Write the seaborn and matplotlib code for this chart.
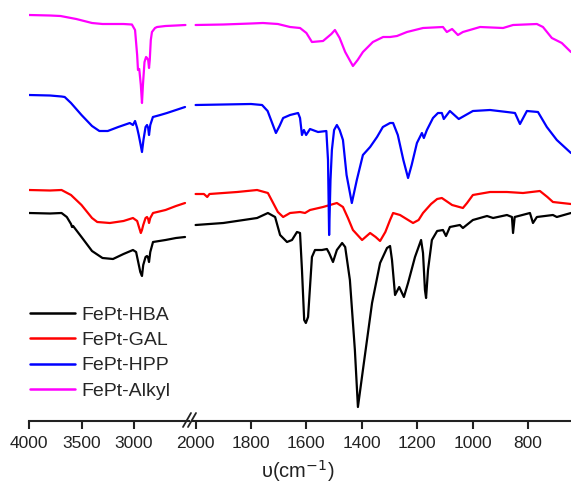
import numpy as np
import pandas as pd
import matplotlib
matplotlib.use("Agg")
import matplotlib.pyplot as plt
from matplotlib.lines import Line2D
import seaborn as sns

# ---------------- data (wavenumber cm^-1, transmittance a.u., offset traces) ----------------
series_names = ["FePt-HBA", "FePt-GAL", "FePt-HPP", "FePt-Alkyl"]
series_colors = ["#000000", "#ff0000", "#0000ff", "#ff00ff"]

# high wavenumber region (4000-2500)
hba_hi_wn = [4000, 3800, 3690, 3640, 3600, 3590, 3580, 3500, 3400, 3300, 3200, 3100, 3010, 2980, 2960, 2940, 2924, 2912, 2890, 2876, 2865, 2857, 2845, 2819, 2700, 2600, 2514]
hba_hi_t = [217, 216.5, 217, 213, 206, 203, 204, 193, 179, 172, 171, 176, 180, 178, 168, 158, 154, 165, 173, 174, 172, 168, 178, 188, 190, 192, 193]

gal_hi_wn = [4000, 3800, 3690, 3600, 3500, 3400, 3350, 3230, 3100, 3010, 2970, 2950, 2935, 2924, 2912, 2890, 2876, 2865, 2857, 2845, 2819, 2700, 2600, 2514]
gal_hi_t = [240, 239.5, 240, 235, 225, 212, 208, 207, 209, 212, 209, 202, 197, 200, 205, 212, 213, 211, 207, 212, 217, 220, 224, 227]

hpp_hi_wn = [4000, 3800, 3690, 3660, 3640, 3600, 3500, 3400, 3330, 3250, 3150, 3040, 3010, 2990, 2970, 2955, 2940, 2924, 2910, 2890, 2876, 2865, 2857, 2845, 2820, 2750, 2686, 2600, 2514]
hpp_hi_t = [335, 334.5, 333.5, 333, 331, 327, 315, 304, 299, 299, 303, 307, 305, 309, 302, 295, 287, 278, 290, 303, 305, 302, 295, 305, 313, 315, 317, 320, 323]

alk_hi_wn = [4000, 3800, 3700, 3550, 3400, 3300, 3100, 3020, 2990, 2970, 2962, 2950, 2935, 2924, 2915, 2900, 2885, 2876, 2865, 2857, 2850, 2840, 2829, 2800, 2780, 2700, 2600, 2510]
alk_hi_t = [415, 414.5, 414, 411, 407, 406, 406, 405.5, 400, 375, 360, 361, 345, 327, 345, 368, 373, 372, 370, 362, 370, 390, 398, 402, 403, 404, 404.5, 405]

# fingerprint region (2000-645)
hba_lo_wn = [2000, 1900, 1778, 1739, 1713, 1695, 1670, 1652, 1634, 1623, 1616, 1608, 1602, 1594, 1580, 1569, 1544, 1526, 1518, 1504, 1490, 1471, 1460, 1443, 1425, 1414, 1396, 1363, 1334, 1309, 1298, 1291, 1280, 1265, 1248, 1233, 1208, 1186, 1179, 1172, 1168, 1161, 1147, 1128, 1107, 1096, 1082, 1046, 1035, 999, 948, 926, 876, 858, 854, 848, 793, 782, 768, 710, 696, 645]
hba_lo_t = [205, 207, 212, 217, 213, 195, 188, 190, 198, 197, 160, 110, 107, 113, 173, 180, 180, 181, 177, 168, 180, 187, 183, 150, 80, 23, 60, 127, 167, 182, 184, 170, 135, 143, 133, 147, 173, 190, 177, 140, 132, 160, 190, 199, 200, 194, 203, 205, 202, 210, 214, 212, 215, 213, 197, 213, 217, 207, 213, 215, 213, 217]

gal_lo_wn = [2000, 1970, 1958, 1950, 1850, 1778, 1739, 1720, 1703, 1684, 1659, 1623, 1605, 1587, 1540, 1490, 1468, 1450, 1432, 1399, 1370, 1350, 1334, 1315, 1298, 1287, 1262, 1215, 1195, 1179, 1150, 1128, 1111, 1074, 1035, 1020, 999, 937, 876, 818, 757, 730, 710, 645]
gal_lo_t = [236, 236, 233, 236, 238, 240, 237, 227, 218, 213, 217, 218, 217, 220, 223, 227, 223, 212, 200, 190, 197, 193, 189, 198, 210, 217, 215, 207, 210, 217, 226, 231, 232, 225, 222, 227, 235, 238, 238, 237, 239, 233, 228, 226]

hpp_lo_wn = [2000, 1900, 1800, 1760, 1740, 1725, 1710, 1697, 1684, 1659, 1630, 1623, 1616, 1609, 1601, 1587, 1558, 1528, 1522, 1518, 1513, 1508, 1500, 1490, 1480, 1468, 1455, 1436, 1418, 1396, 1370, 1345, 1324, 1298, 1287, 1270, 1250, 1233, 1220, 1201, 1183, 1176, 1165, 1143, 1125, 1111, 1104, 1082, 1050, 999, 937, 876, 847, 829, 804, 764, 732, 696, 645]
hpp_lo_t = [325, 325.5, 326, 325, 319, 308, 297, 304, 312, 315, 317, 312, 295, 300, 295, 301, 298, 299, 270, 195, 250, 280, 300, 305, 300, 290, 255, 227, 250, 275, 283, 293, 303, 307, 307, 295, 270, 252, 265, 287, 297, 292, 300, 312, 317, 317, 311, 319, 311, 319, 320, 318, 317, 306, 319, 318, 303, 290, 277]

alk_lo_wn = [2000, 1900, 1800, 1757, 1703, 1659, 1623, 1600, 1580, 1540, 1510, 1497, 1480, 1460, 1432, 1415, 1396, 1360, 1323, 1298, 1273, 1237, 1179, 1107, 1093, 1074, 1053, 1035, 973, 890, 854, 768, 746, 714, 678, 645]
alk_lo_t = [405, 405.5, 406.5, 407, 406, 403, 402, 397, 388, 389, 396, 400, 392, 378, 364, 370, 378, 388, 393, 393, 394, 398, 402, 403, 398, 401, 395, 398, 403, 402, 405, 406, 403, 392, 387, 378]

left_ticks = [4000, 3500, 3000]
right_ticks = [2000, 1800, 1600, 1400, 1200, 1000, 800]
x_label = "υ(cm$^{-1}$)"

hi_data = [(hba_hi_wn, hba_hi_t), (gal_hi_wn, gal_hi_t), (hpp_hi_wn, hpp_hi_t), (alk_hi_wn, alk_hi_t)]
lo_data = [(hba_lo_wn, hba_lo_t), (gal_lo_wn, gal_lo_t), (hpp_lo_wn, hpp_lo_t), (alk_lo_wn, alk_lo_t)]

def frame(parts):
    rows = []
    for name, (wn, t) in zip(series_names, parts):
        rows.append(pd.DataFrame({"wn": wn, "T": t, "sample": name}))
    return pd.concat(rows, ignore_index=True)

df_hi = frame(hi_data)
df_lo = frame(lo_data)

# ---------------- figure ----------------
sns.set_style("white")
plt.rcParams["font.family"] = ["Liberation Sans", "DejaVu Sans"]

W, H = 571, 490
fig = plt.figure(figsize=(W / 100, H / 100), dpi=100)
bottom = (H - 421) / H
top = (H - 5) / H
axL = fig.add_axes([29 / W, bottom, (189 - 29) / W, top - bottom])
axR = fig.add_axes([192 / W, bottom, (W - 192) / W, top - bottom])

palette = dict(zip(series_names, series_colors))
sns.lineplot(data=df_hi, x="wn", y="T", hue="sample", palette=palette, hue_order=series_names,
             estimator=None, sort=False, lw=1.6, ax=axL, legend=False)
sns.lineplot(data=df_lo, x="wn", y="T", hue="sample", palette=palette, hue_order=series_names,
             estimator=None, sort=False, lw=1.6, ax=axR, legend=False)

ylo, yhi = 430 - 421, 430 - 5
axL.set_xlim(4000, 4000 - 160 / 0.105)
axR.set_xlim(2000 + 3.6 / 0.277, 2000 - (571 - 195.6) / 0.277)
for ax, ticks in ((axL, left_ticks), (axR, right_ticks)):
    ax.set_ylim(ylo, yhi)
    ax.set_xticks(ticks)
    ax.set_yticks([])
    ax.set_xlabel("")
    ax.set_ylabel("")
    for s in ("left", "right", "top"):
        ax.spines[s].set_visible(False)
    ax.spines["bottom"].set_linewidth(1.5)
    ax.spines["bottom"].set_color("#222222")
    ax.tick_params(axis="x", direction="out", length=6, width=1.5, color="#222222",
                   labelsize=12.5, pad=5, labelcolor="#222222", bottom=True)
    ax.patch.set_alpha(0)

# axis break marks
for dx in (0, 5):
    fig.add_artist(Line2D([(183 + dx) / W, (191 + dx) / W], [(H - 427) / H, (H - 413) / H],
                          color="#222222", lw=1.3))

fig.text(298 / W, 1 - 471 / H, x_label, ha="center", va="center", fontsize=14.5, color="#222222")

handles = [Line2D([], [], color=c, lw=1.8) for c in series_colors]
fig.legend(handles, series_names, loc="upper left", bbox_to_anchor=(30 / W, (H - 306) / H),
           frameon=False, fontsize=14, handlelength=2.3, handletextpad=0.35,
           labelspacing=0.4, borderpad=0, borderaxespad=0)

fig.savefig("out.png", dpi=100)
